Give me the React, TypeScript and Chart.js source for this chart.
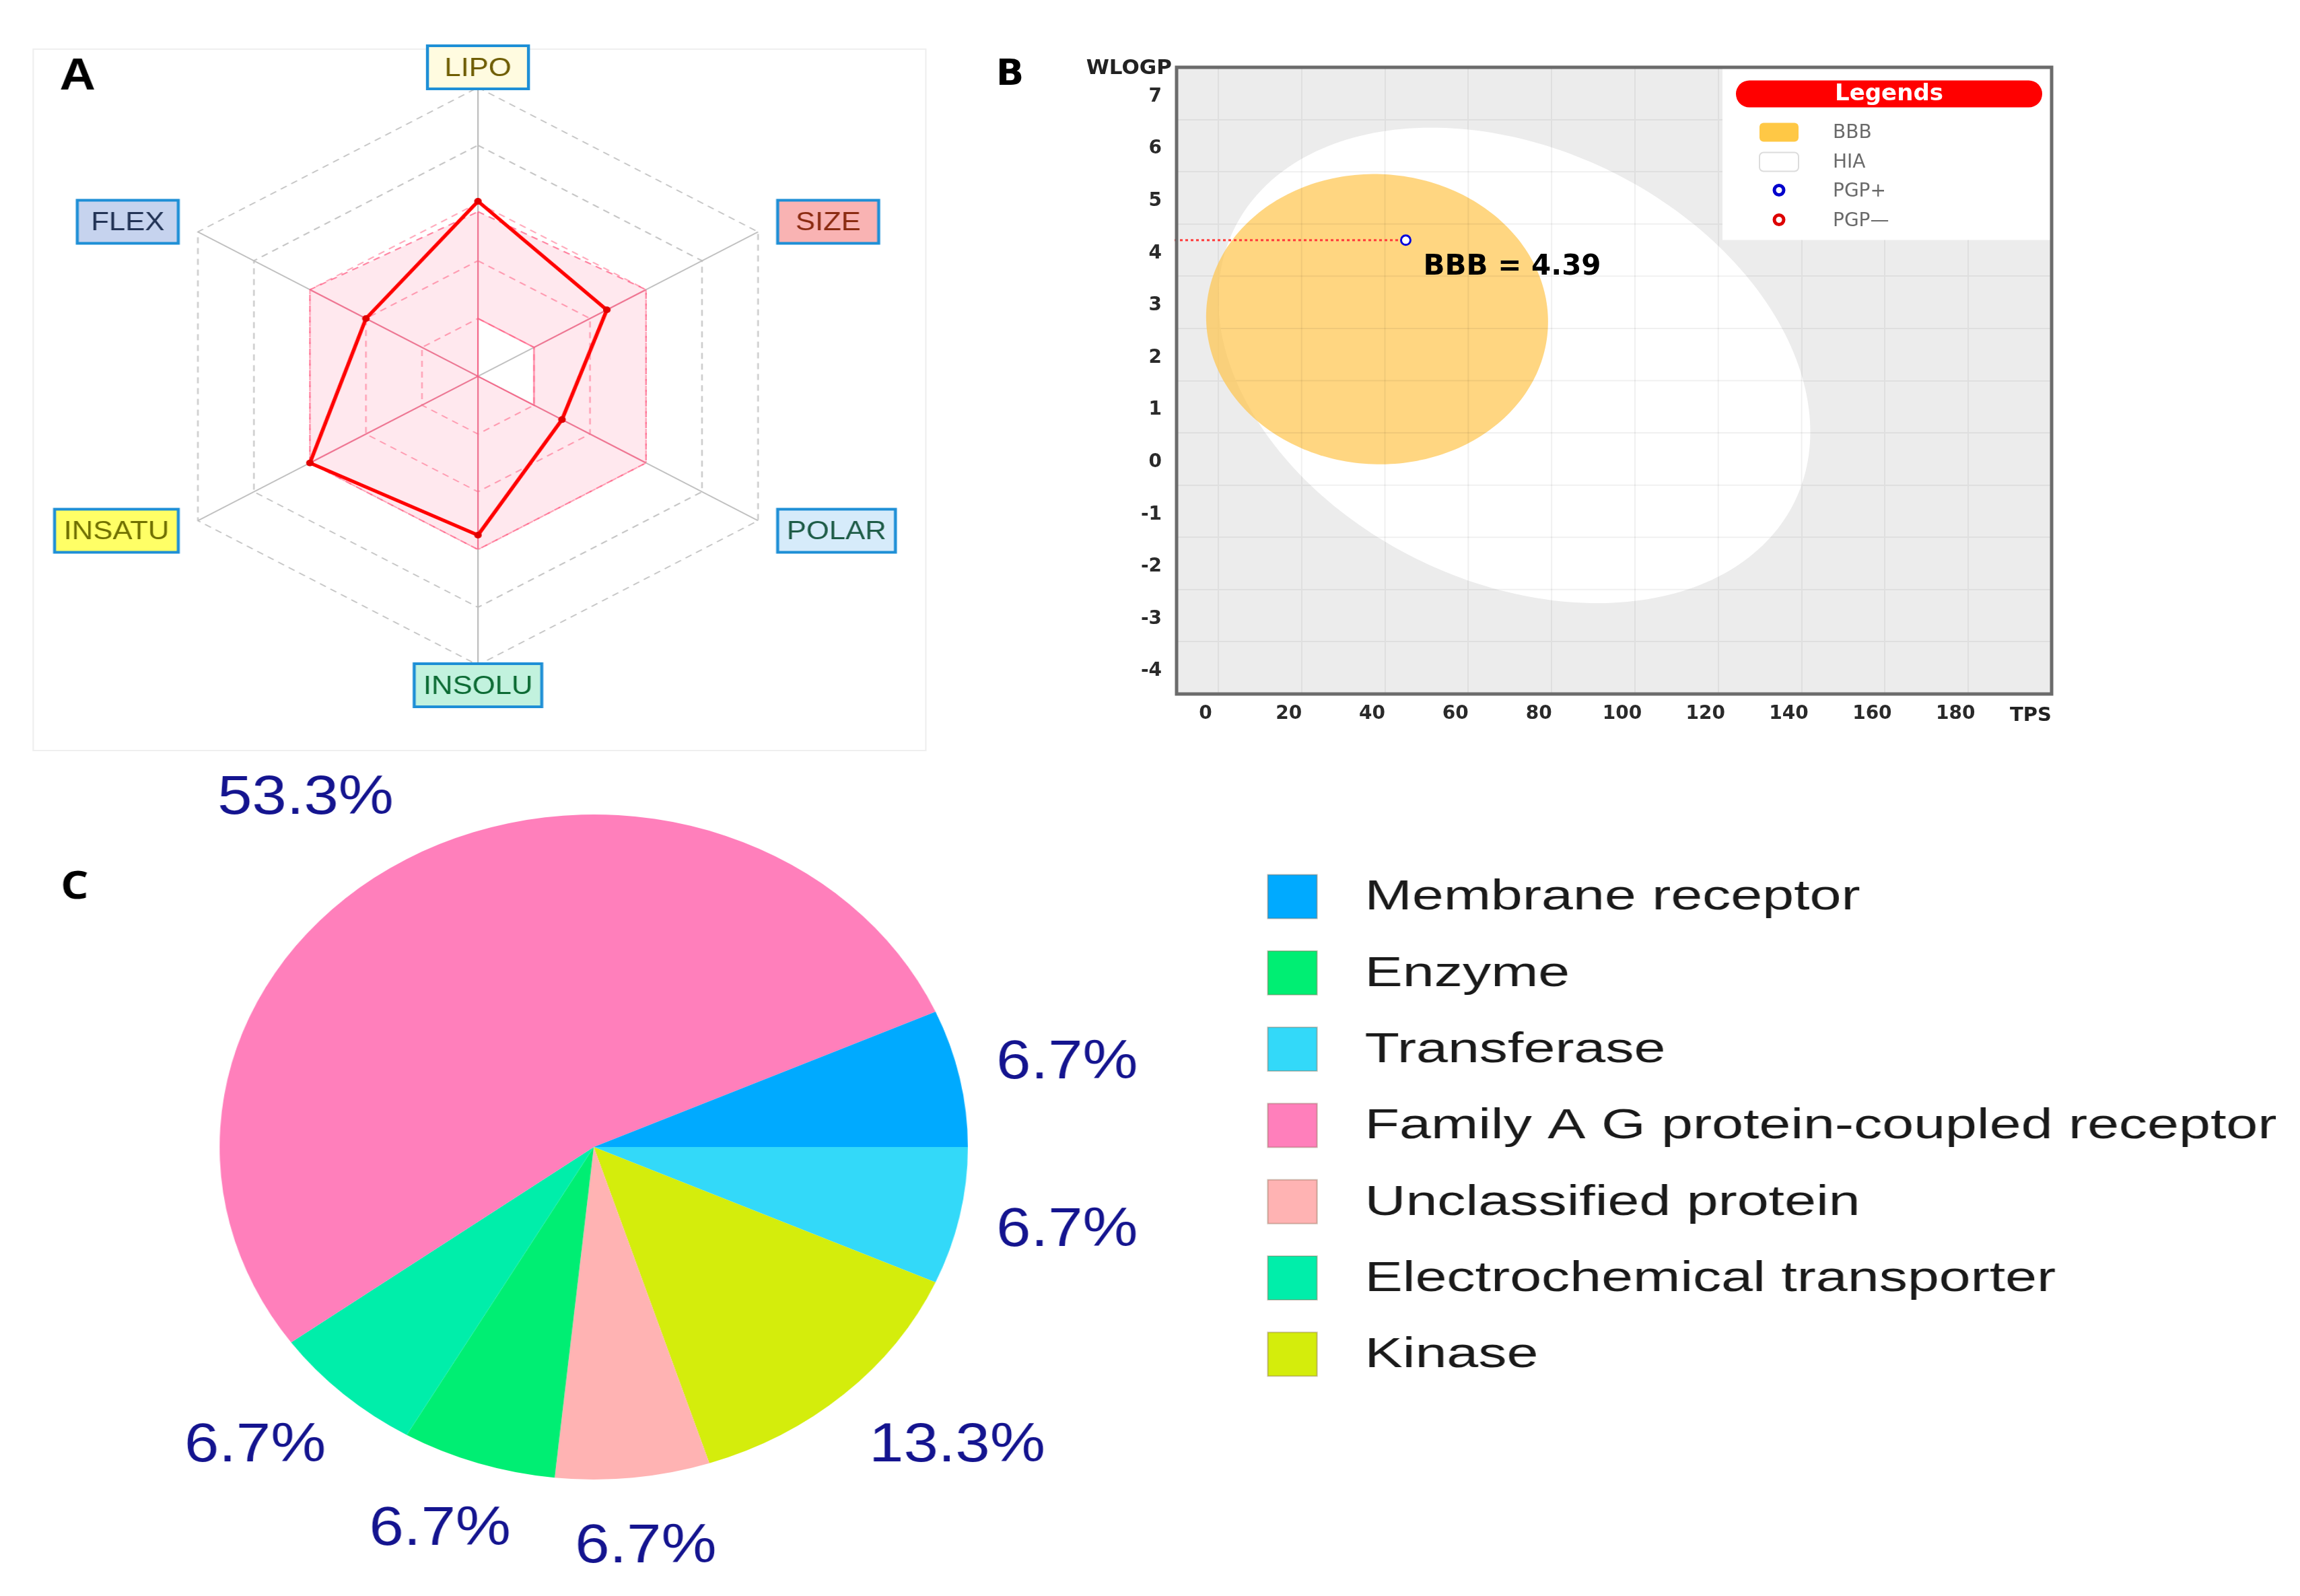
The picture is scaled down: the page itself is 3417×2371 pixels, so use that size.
import React, { useEffect, useRef } from 'react';
import { Chart, registerables } from 'chart.js';

Chart.register(...registerables);

/* ---------- Panel A : bioavailability radar ---------- */
const RADAR_AXES = ['LIPO', 'SIZE', 'POLAR', 'INSOLU', 'INSATU', 'FLEX'];
const RADAR_VALUES = [3.03, 2.3, 1.5, 2.75, 3.0, 2.0];
const OPTIMAL_LOWER = [1, 1, 1, 0, 0, 0];
const OPTIMAL_UPPER = [2.85, 3, 3, 3, 3, 3];
const RADAR_MAX = 5;

/* ---------- Panel B : BOILED-Egg ---------- */
const TPSA_TICKS = [0, 20, 40, 60, 80, 100, 120, 140, 160, 180];
const WLOGP_TICKS = [-4, -3, -2, -1, 0, 1, 2, 3, 4, 5, 6, 7];
const TPSA_LIMITS = [-10, 200];
const WLOGP_LIMITS = [-4, 8];
const MOLECULE_TPSA = [45];
const MOLECULE_WLOGP = [4.69];
const BBB_TEXT = 'BBB = 4.39';
// centre x, centre y, width, height, rotation (deg) in data units
const HIA_ELLIPSE = [71.051, 2.292, 142.081, 8.74, -1.031325];
const BBB_ELLIPSE = [38.117, 3.177, 82.061, 5.557, -0.066326];
const EGG_LEGEND = ['BBB', 'HIA', 'PGP+', 'PGP\u2014'];

/* ---------- Panel C : target classes ---------- */
const TARGET_CLASSES = [
  'Transferase',
  'Kinase',
  'Unclassified protein',
  'Enzyme',
  'Electrochemical transporter',
  'Family A G protein-coupled receptor',
  'Membrane receptor',
];
const TARGET_COUNTS = [1, 2, 1, 1, 1, 8, 1];
const LEGEND_ORDER = [
  'Membrane receptor',
  'Enzyme',
  'Transferase',
  'Family A G protein-coupled receptor',
  'Unclassified protein',
  'Electrochemical transporter',
  'Kinase',
];

/* ---------- styles ---------- */
const TARGET_COLORS = ['#33d9f9', '#d4ed0c', '#ffb3b3', '#00ee73', '#00eeaa', '#ff7fbb', '#00aaff'];
const RADAR_LABEL_BG = ['#fffbe0', '#f9b3b3', '#d6ebfa', '#c2f2de', '#ffff66', '#c6d3ee'];
const RADAR_LABEL_FG = ['#6e5c00', '#8a2a10', '#1d5b46', '#0b6a33', '#6f6f00', '#223355'];
const ARIAL = '"Liberation Sans", Arial, sans-serif';
const DEJA = '"DejaVu Sans", sans-serif';

function rr(ctx: any, x: number, y: number, w: number, h: number, r: number) {
  ctx.beginPath();
  ctx.moveTo(x + r, y);
  ctx.arcTo(x + w, y, x + w, y + h, r);
  ctx.arcTo(x + w, y + h, x, y + h, r);
  ctx.arcTo(x, y + h, x, y, r);
  ctx.arcTo(x, y, x + w, y, r);
  ctx.closePath();
}

function ellipsePath(ctx: any, xs: any, ys: any, e: number[]) {
  const [cx, cy, w, h, deg] = e;
  const th = (deg * Math.PI) / 180;
  ctx.beginPath();
  const n = 240;
  for (let k = 0; k <= n; k++) {
    const t = (k / n) * Math.PI * 2;
    const u = (w / 2) * Math.cos(t);
    const v = (h / 2) * Math.sin(t);
    const X = cx + u * Math.cos(th) - v * Math.sin(th);
    const Y = cy + u * Math.sin(th) + v * Math.cos(th);
    const px = xs.getPixelForValue(X);
    const py = ys.getPixelForValue(Y);
    if (k === 0) ctx.moveTo(px, py);
    else ctx.lineTo(px, py);
  }
  ctx.closePath();
}

function polyPath(ctx: any, r: any, values: number[]) {
  values.forEach((v, i) => {
    const p = r.getPointPosition(i, r.getDistanceFromCenterForValue(v));
    if (i === 0) ctx.moveTo(p.x, p.y);
    else ctx.lineTo(p.x, p.y);
  });
  ctx.closePath();
}

function makeRadar(canvas: HTMLCanvasElement) {
  const decor = {
    id: 'radarDecor',
    beforeDraw(chart: any) {
      const ctx = chart.ctx;
      ctx.save();
      ctx.strokeStyle = '#efefef';
      ctx.lineWidth = 2;
      ctx.strokeRect(44, 73, 1184, 1042);
      ctx.restore();
    },
    beforeDatasetsDraw(chart: any) {
      // grid lines inside the optimal zone are tinted pink
      const ctx = chart.ctx;
      const r = chart.scales.r;
      ctx.save();
      ctx.beginPath();
      polyPath(ctx, r, OPTIMAL_UPPER);
      polyPath(ctx, r, OPTIMAL_LOWER);
      ctx.clip('evenodd');
      ctx.strokeStyle = 'rgba(255,105,140,0.75)';
      ctx.lineWidth = 2;
      RADAR_AXES.forEach((_, i) => {
        const p = r.getPointPosition(i, r.drawingArea);
        ctx.beginPath();
        ctx.moveTo(r.xCenter, r.yCenter);
        ctx.lineTo(p.x, p.y);
        ctx.stroke();
      });
      ctx.restore();
    },
    afterDraw(chart: any) {
      const ctx = chart.ctx;
      const r = chart.scales.r;
      ctx.save();
      ctx.font = `39px ${ARIAL}`;
      RADAR_AXES.forEach((name, i) => {
        const p = r.getPointPosition(i, r.drawingArea + 30);
        const tw = ctx.measureText(name).width;
        const bw = Math.max(134, tw + 24);
        const bh = 64;
        const dx = p.x - r.xCenter;
        let x0;
        if (Math.abs(dx) < 2) x0 = p.x - bw / 2;
        else if (dx > 0) x0 = p.x;
        else x0 = p.x - bw;
        const y0 = p.y - bh / 2;
        ctx.fillStyle = RADAR_LABEL_BG[i];
        ctx.fillRect(x0, y0, bw, bh);
        ctx.strokeStyle = '#1e8fd6';
        ctx.lineWidth = 4;
        ctx.strokeRect(x0, y0, bw, bh);
        ctx.fillStyle = RADAR_LABEL_FG[i];
        ctx.textAlign = 'center';
        ctx.textBaseline = 'middle';
        ctx.fillText(name, x0 + bw / 2, y0 + bh / 2 + 2);
      });
      ctx.fillStyle = '#000';
      ctx.textAlign = 'left';
      ctx.textBaseline = 'alphabetic';
      ctx.font = `bold 66px ${ARIAL}`;
      ctx.fillText('A', 79, 133);
      ctx.restore();
    },
  };
  return new Chart(canvas, {
    type: 'radar',
    data: {
      labels: RADAR_AXES,
      datasets: [
        {
          data: OPTIMAL_LOWER,
          borderColor: 'rgba(255,90,130,0.7)',
          borderWidth: 2,
          pointRadius: 0,
          fill: false,
          order: 2,
        },
        {
          data: OPTIMAL_UPPER,
          borderColor: 'rgba(255,90,130,0.75)',
          borderWidth: 2,
          borderDash: [9, 7],
          pointRadius: 0,
          fill: '-1',
          backgroundColor: 'rgba(255,0,70,0.09)',
          order: 1,
        },
        {
          data: RADAR_VALUES,
          borderColor: '#ff0000',
          borderWidth: 5,
          pointRadius: 5,
          pointBackgroundColor: '#e00000',
          pointBorderWidth: 0,
          fill: false,
          order: 0,
        },
      ],
    },
    options: {
      responsive: false,
      animation: false,
      devicePixelRatio: 1,
      events: [],
      layout: { padding: { left: 205, top: 130, right: 187, bottom: 132 } },
      elements: { line: { tension: 0 } },
      plugins: { legend: { display: false }, tooltip: { enabled: false } },
      scales: {
        r: {
          min: 0,
          max: RADAR_MAX,
          ticks: { display: false, stepSize: 1 },
          pointLabels: { display: false },
          grid: {
            circular: false,
            lineWidth: 2,
            color: (c: any) => (c.tick && c.tick.value <= 3 ? 'rgba(255,110,140,0.6)' : '#c4c4c4'),
          },
          border: { dash: [9, 7] },
          angleLines: { color: '#bdbdbd', lineWidth: 2 },
        },
      },
    } as any,
    plugins: [decor],
  } as any);
}

function makeEgg(canvas: HTMLCanvasElement) {
  const decor = {
    id: 'eggDecor',
    beforeDraw(chart: any) {
      const { ctx, chartArea: a } = chart;
      ctx.save();
      ctx.fillStyle = '#ececec';
      ctx.fillRect(a.left, a.top, a.width, a.height);
      ctx.restore();
    },
    beforeDatasetsDraw(chart: any) {
      const { ctx, chartArea: a } = chart;
      const xs = chart.scales.x;
      const ys = chart.scales.y;
      ctx.save();
      ctx.beginPath();
      ctx.rect(a.left, a.top, a.width, a.height);
      ctx.clip();
      ellipsePath(ctx, xs, ys, HIA_ELLIPSE);
      ctx.fillStyle = '#ffffff';
      ctx.fill();
      ellipsePath(ctx, xs, ys, BBB_ELLIPSE);
      ctx.fillStyle = 'rgba(255,196,76,0.7)';
      ctx.fill();
      ellipsePath(ctx, xs, ys, HIA_ELLIPSE);
      ctx.clip();
      ctx.strokeStyle = 'rgba(0,0,0,0.06)';
      ctx.lineWidth = 2;
      xs.ticks.forEach((t: any) => {
        const px = xs.getPixelForValue(t.value);
        ctx.beginPath();
        ctx.moveTo(px, a.top);
        ctx.lineTo(px, a.bottom);
        ctx.stroke();
      });
      ys.ticks.forEach((t: any) => {
        const py = ys.getPixelForValue(t.value);
        ctx.beginPath();
        ctx.moveTo(a.left, py);
        ctx.lineTo(a.right, py);
        ctx.stroke();
      });
      ctx.restore();
      const px = xs.getPixelForValue(MOLECULE_TPSA[0]);
      const py = ys.getPixelForValue(MOLECULE_WLOGP[0]);
      ctx.save();
      ctx.strokeStyle = '#ff3b3b';
      ctx.lineWidth = 3;
      ctx.setLineDash([4, 4]);
      ctx.beginPath();
      ctx.moveTo(a.left - 3, py);
      ctx.lineTo(px - 8, py);
      ctx.stroke();
      ctx.restore();
    },
    afterDraw(chart: any) {
      const { ctx, chartArea: a } = chart;
      const xs = chart.scales.x;
      const ys = chart.scales.y;
      ctx.save();

      // legend box
      ctx.fillStyle = '#ffffff';
      ctx.fillRect(a.right - 489, a.top + 1.5, 487, 255);
      rr(ctx, a.right - 469, a.top + 19.5, 455, 40, 20);
      ctx.fillStyle = '#ff0000';
      ctx.fill();
      ctx.fillStyle = '#ffffff';
      ctx.font = `bold 34px ${DEJA}`;
      ctx.textAlign = 'center';
      ctx.textBaseline = 'middle';
      ctx.fillText('Legends', a.right - 241.5, a.top + 40);

      rr(ctx, a.right - 434, a.top + 82.5, 58, 28, 6);
      ctx.fillStyle = '#ffc845';
      ctx.fill();
      rr(ctx, a.right - 434, a.top + 126.5, 58, 28, 6);
      ctx.fillStyle = '#ffffff';
      ctx.fill();
      ctx.strokeStyle = '#dcdcdc';
      ctx.lineWidth = 2;
      ctx.stroke();
      ctx.lineWidth = 5;
      ctx.strokeStyle = '#0000cc';
      ctx.beginPath();
      ctx.arc(a.right - 405, a.top + 182.5, 7, 0, Math.PI * 2);
      ctx.stroke();
      ctx.strokeStyle = '#dd0000';
      ctx.beginPath();
      ctx.arc(a.right - 405, a.top + 226.5, 7, 0, Math.PI * 2);
      ctx.stroke();
      ctx.fillStyle = '#6a6a6a';
      ctx.font = `28px ${DEJA}`;
      ctx.textAlign = 'left';
      const rows = [97.5, 141.5, 184.5, 228.5];
      EGG_LEGEND.forEach((t, i) => ctx.fillText(t, a.right - 325, a.top + rows[i]));

      // plot frame
      ctx.strokeStyle = '#6b6b6b';
      ctx.lineWidth = 5;
      ctx.strokeRect(a.left, a.top, a.width, a.height);

      // annotation
      const px = xs.getPixelForValue(MOLECULE_TPSA[0]);
      const py = ys.getPixelForValue(MOLECULE_WLOGP[0]);
      ctx.fillStyle = '#000';
      ctx.font = `bold 42px ${DEJA}`;
      ctx.textBaseline = 'alphabetic';
      ctx.fillText(BBB_TEXT, px + 26, py + 51);

      // axis names
      ctx.fillStyle = '#222';
      ctx.font = `bold 31px ${DEJA}`;
      ctx.textAlign = 'right';
      ctx.textBaseline = 'middle';
      ctx.fillText('WLOGP', a.left - 7, a.top + 2);
      ctx.font = `bold 29px ${DEJA}`;
      ctx.textAlign = 'center';
      ctx.fillText('TPS', a.right - 31, a.bottom + 32);

      ctx.fillStyle = '#000';
      ctx.font = `bold 54px ${DEJA}`;
      ctx.textAlign = 'left';
      ctx.textBaseline = 'alphabetic';
      ctx.fillText('B', 80, 86);
      ctx.restore();
    },
  };
  return new Chart(canvas, {
    type: 'scatter',
    data: {
      datasets: [
        {
          data: MOLECULE_TPSA.map((x, i) => ({ x, y: MOLECULE_WLOGP[i] })),
          pointRadius: 7,
          pointBorderWidth: 3,
          borderColor: '#0000dd',
          backgroundColor: '#ffffff',
          pointStyle: 'circle',
        },
      ],
    },
    options: {
      responsive: false,
      animation: false,
      devicePixelRatio: 1,
      events: [],
      layout: { padding: { left: 268, right: 52, top: 60, bottom: 29 } },
      plugins: { legend: { display: false }, tooltip: { enabled: false } },
      scales: {
        x: {
          type: 'linear',
          min: TPSA_LIMITS[0],
          max: TPSA_LIMITS[1],
          afterFit: (s: any) => {
            s.height = 70;
          },
          afterBuildTicks: (s: any) => {
            s.ticks = [TPSA_LIMITS[0], ...TPSA_TICKS, TPSA_LIMITS[1]].map((v) => ({ value: v }));
          },
          ticks: {
            autoSkip: false,
            maxRotation: 0,
            labelOffset: -19,
            padding: 13,
            color: '#2a2a2a',
            font: { family: DEJA, weight: 'bold', size: 28 },
            callback: (v: any) => (TPSA_TICKS.includes(Number(v)) ? String(v) : ''),
          },
          grid: { color: '#dfdfdf', lineWidth: 2, drawTicks: false },
          border: { display: false },
        },
        y: {
          type: 'linear',
          min: WLOGP_LIMITS[0],
          max: WLOGP_LIMITS[1],
          afterFit: (s: any) => {
            s.width = 80;
          },
          afterBuildTicks: (s: any) => {
            s.ticks = [...WLOGP_TICKS, WLOGP_LIMITS[1]].map((v) => ({ value: v }));
          },
          ticks: {
            autoSkip: false,
            labelOffset: -34,
            padding: 22,
            color: '#2a2a2a',
            font: { family: DEJA, weight: 'bold', size: 28 },
            callback: (v: any) => (WLOGP_TICKS.includes(Number(v)) ? String(v) : ''),
          },
          grid: { color: '#dfdfdf', lineWidth: 2, drawTicks: false },
          border: { display: false },
        },
      },
    } as any,
    plugins: [decor],
  } as any);
}

function makePie(canvas: HTMLCanvasElement) {
  const decor = {
    id: 'pieDecor',
    afterDraw(chart: any) {
      const ctx = chart.ctx;
      const meta = chart.getDatasetMeta(0);
      const total = TARGET_COUNTS.reduce((s, v) => s + v, 0);
      ctx.save();
      ctx.font = `82px ${ARIAL}`;
      ctx.fillStyle = '#14148f';
      ctx.textBaseline = 'middle';
      meta.data.forEach((arc: any, i: number) => {
        const p = arc.getProps(['x', 'y', 'startAngle', 'endAngle', 'outerRadius'], true);
        const mid = (p.startAngle + p.endAngle) / 2;
        const c = Math.cos(mid);
        const s = Math.sin(mid);
        let tx;
        if (c > 0.35) {
          tx = p.x + c * p.outerRadius * 1.1;
          ctx.textAlign = 'left';
        } else if (c < -0.35) {
          tx = p.x + c * p.outerRadius * 1.07;
          ctx.textAlign = 'right';
        } else {
          tx = p.x + c * p.outerRadius * 1.33;
          ctx.textAlign = 'center';
        }
        const ty = p.y + s * p.outerRadius * 1.21;
        ctx.fillText(((TARGET_COUNTS[i] / total) * 100).toFixed(1) + '%', tx, ty);
      });

      // legend
      ctx.textAlign = 'left';
      ctx.font = `63px ${ARIAL}`;
      LEGEND_ORDER.forEach((name, k) => {
        const idx = TARGET_CLASSES.indexOf(name);
        const cy = 232 + k * 113.3;
        ctx.fillStyle = TARGET_COLORS[idx];
        ctx.fillRect(1674, cy - 32.5, 65, 65);
        ctx.strokeStyle = 'rgba(120,90,60,0.35)';
        ctx.lineWidth = 2;
        ctx.strokeRect(1674, cy - 32.5, 65, 65);
        ctx.save();
        ctx.translate(1802, cy + 2);
        ctx.scale(1.19, 1);
        ctx.fillStyle = '#1a1a1a';
        ctx.fillText(name, 0, 0);
        ctx.restore();
      });

      ctx.fillStyle = '#000';
      ctx.font = `bold 58px "Open Sans", sans-serif`;
      ctx.textBaseline = 'alphabetic';
      ctx.fillText('C', 80, 235);
      ctx.restore();
    },
  };
  return new Chart(canvas, {
    type: 'pie',
    data: {
      labels: TARGET_CLASSES,
      datasets: [
        {
          data: TARGET_COUNTS,
          backgroundColor: TARGET_COLORS,
          borderWidth: 0,
          hoverOffset: 0,
          offset: 0,
        },
      ],
    },
    options: {
      responsive: false,
      animation: false,
      devicePixelRatio: 1,
      events: [],
      rotation: 90,
      layout: { padding: { left: 290, top: 110, right: 1759, bottom: 173 } },
      plugins: { legend: { display: false }, tooltip: { enabled: false } },
    } as any,
    plugins: [decor],
  } as any);
}

export default function App() {
  const aRef = useRef<HTMLCanvasElement>(null);
  const bRef = useRef<HTMLCanvasElement>(null);
  const cRef = useRef<HTMLCanvasElement>(null);

  useEffect(() => {
    const charts: any[] = [];
    if (aRef.current) charts.push(makeRadar(aRef.current));
    if (bRef.current) charts.push(makeEgg(bRef.current));
    if (cRef.current) charts.push(makePie(cRef.current));
    return () => charts.forEach((c) => c.destroy());
  }, []);

  return (
    <div
      style={{
        position: 'absolute',
        left: 0,
        top: 0,
        width: 3417,
        height: 2371,
        background: '#ffffff',
        overflow: 'hidden',
      }}
    >
      <canvas
        ref={aRef}
        width={1250}
        height={1120}
        style={{ position: 'absolute', left: 0, top: 0, width: '1400px', height: '1120px' }}
      />
      <canvas
        ref={bRef}
        width={1700}
        height={1090}
        style={{ position: 'absolute', left: 1400, top: 40, width: '1700px', height: '1090px' }}
      />
      <canvas
        ref={cRef}
        width={3037}
        height={1271}
        style={{ position: 'absolute', left: 0, top: 1100, width: '3417px', height: '1271px' }}
      />
    </div>
  );
}
